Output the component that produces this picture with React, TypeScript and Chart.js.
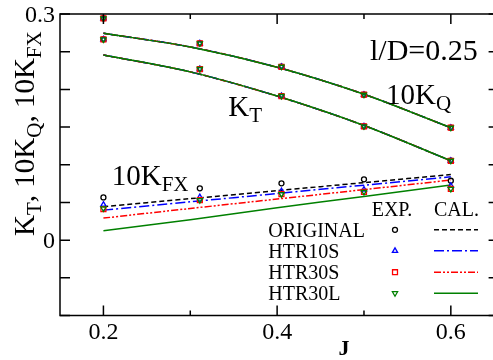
import React, { useEffect, useRef } from 'react';
import { Chart, registerables } from 'chart.js';

Chart.register(...registerables);

// ---- data ----
const J_EXP = [0.2, 0.311, 0.405, 0.5, 0.6];
const J_CAL = [0.2, 0.3, 0.4, 0.5, 0.6];

const KQ10_EXP = [0.2943, 0.2611, 0.23, 0.1929, 0.1491];
const KT_EXP = [0.2664, 0.227, 0.1912, 0.151, 0.1053];
const KQ10_CAL = [0.2744, 0.2563, 0.2294, 0.1936, 0.1491];
const KT_CAL = [0.2456, 0.2232, 0.1911, 0.1521, 0.1053];

const FX_EXP_ORIGINAL = [0.0567, 0.0687, 0.0753, 0.0806, 0.0788];
const FX_EXP_HTR10S = [0.047, 0.057, 0.065, 0.067, 0.072];
const FX_EXP_HTR30S = [0.041, 0.053, 0.061, 0.064, 0.068];
const FX_EXP_HTR30L = [0.042, 0.053, 0.061, 0.064, 0.068];

const FX_CAL_ORIGINAL = [0.0443, 0.055, 0.0656, 0.0763, 0.087];
const FX_CAL_HTR10S = [0.0398, 0.0508, 0.0619, 0.0729, 0.084];
const FX_CAL_HTR30S = [0.0292, 0.042, 0.0545, 0.067, 0.0797];
const FX_CAL_HTR30L = [0.0124, 0.027, 0.0428, 0.058, 0.073];

const SERIES = ['ORIGINAL', 'HTR10S', 'HTR30S', 'HTR30L'];
const FX_EXP = [FX_EXP_ORIGINAL, FX_EXP_HTR10S, FX_EXP_HTR30S, FX_EXP_HTR30L];
const FX_CAL = [FX_CAL_ORIGINAL, FX_CAL_HTR10S, FX_CAL_HTR30S, FX_CAL_HTR30L];

const Y_TICKS = [-0.1, -0.05, 0, 0.05, 0.1, 0.15, 0.2, 0.25, 0.3];
const Y_LABELS = [0, 0.3];
const X_TICKS = [0.2, 0.3, 0.4, 0.5, 0.6];
const X_LABELS = [0.2, 0.4, 0.6];

// ---- styles ----
const COLORS = ['#000000', '#0000ff', '#ff0000', '#008000'];
const DASHES = [[5, 3], [10, 3, 2, 3], [7, 2, 2, 2, 2, 2], []];
const POINT_STYLES = ['circle', 'triangle', 'rect', 'triangle'];
const POINT_ROT = [0, 0, 0, 180];
const POINT_R = [2.5, 3, 3.5, 3];
const SERIF = '"Liberation Serif", "Times New Roman", serif';

const toXY = (xs: number[], ys: number[]) => xs.map((x, i) => ({ x, y: ys[i] }));

type Part = [string, boolean];

function drawRich(ctx: CanvasRenderingContext2D, parts: Part[], x: number, y: number, main: number, sub: number, off: number) {
  let cx = x;
  ctx.textAlign = 'left';
  ctx.textBaseline = 'alphabetic';
  for (const [t, isSub] of parts) {
    ctx.font = `${isSub ? sub : main}px ${SERIF}`;
    ctx.fillText(t, cx, isSub ? y + off : y);
    cx += ctx.measureText(t).width;
  }
}

function drawMarker(ctx: CanvasRenderingContext2D, i: number, x: number, y: number) {
  const r = POINT_R[i];
  ctx.save();
  ctx.strokeStyle = COLORS[i];
  ctx.lineWidth = 1.3;
  ctx.setLineDash([]);
  ctx.beginPath();
  if (POINT_STYLES[i] === 'circle') {
    ctx.arc(x, y, r, 0, Math.PI * 2);
  } else if (POINT_STYLES[i] === 'rect') {
    const s = r * Math.SQRT1_2;
    ctx.rect(x - s, y - s, 2 * s, 2 * s);
  } else {
    const dir = POINT_ROT[i] === 180 ? -1 : 1;
    for (let k = 0; k < 3; k++) {
      const a = (k * 2 * Math.PI) / 3;
      const px = x + Math.sin(a) * r;
      const py = y - dir * Math.cos(a) * r;
      if (k === 0) ctx.moveTo(px, py);
      else ctx.lineTo(px, py);
    }
    ctx.closePath();
  }
  ctx.stroke();
  ctx.restore();
}

const decorPlugin = {
  id: 'decor',
  afterDraw(chart: any) {
    const ctx: CanvasRenderingContext2D = chart.ctx;
    const { left, right, top, bottom } = chart.chartArea;
    const xs = chart.scales.x;
    const ys = chart.scales.y;
    ctx.save();
    ctx.strokeStyle = '#000';
    ctx.fillStyle = '#000';
    ctx.lineWidth = 1.5;
    ctx.setLineDash([]);
    ctx.strokeRect(left, top, right - left, bottom - top);
    ctx.beginPath();
    for (const v of Y_TICKS) {
      const y = ys.getPixelForValue(v);
      ctx.moveTo(left, y);
      ctx.lineTo(left + 10, y);
      ctx.moveTo(right, y);
      ctx.lineTo(right - 10, y);
    }
    for (const v of X_TICKS) {
      const x = xs.getPixelForValue(v);
      const len = X_LABELS.includes(v) ? 10 : 5;
      ctx.moveTo(x, bottom);
      ctx.lineTo(x, bottom - len);
      ctx.moveTo(x, top);
      ctx.lineTo(x, top + len);
    }
    ctx.stroke();

    // tick labels
    ctx.font = `24px ${SERIF}`;
    ctx.textAlign = 'right';
    ctx.textBaseline = 'alphabetic';
    for (const v of Y_LABELS) {
      ctx.fillText(String(v), left - 5, ys.getPixelForValue(v) + 7.8);
    }
    ctx.textAlign = 'center';
    for (const v of X_LABELS) {
      ctx.fillText(String(v), xs.getPixelForValue(v), bottom + 23);
    }
    // x title
    ctx.font = `bold 22px ${SERIF}`;
    ctx.fillText('J', 344, 354.5);

    // y title
    ctx.save();
    ctx.translate(34, 236);
    ctx.rotate(-Math.PI / 2);
    drawRich(ctx, [['K', false], ['T', true], [', 10K', false], ['Q', true], [', 10K', false], ['FX', true]], 0, 0, 29, 21, 7);
    ctx.restore();

    // annotations
    ctx.font = `30px ${SERIF}`;
    ctx.textAlign = 'left';
    ctx.fillText('l/D=0.25', 370, 60);
    drawRich(ctx, [['10K', false], ['Q', true]], 386, 104, 29, 21, 5.5);
    drawRich(ctx, [['K', false], ['T', true]], 228.3, 115.7, 29, 21, 6);
    drawRich(ctx, [['10K', false], ['FX', true]], 111.7, 185, 29, 21, 5.7);

    // legend
    ctx.font = `20px ${SERIF}`;
    ctx.textAlign = 'left';
    ctx.fillText('EXP.', 371.7, 215.7);
    ctx.fillText('CAL.', 434, 215.7);
    const rows = [236.6, 257.6, 279, 300];
    SERIES.forEach((name, i) => {
      const yb = rows[i];
      const ym = yb - 6.8;
      ctx.fillStyle = '#000';
      ctx.font = `20px ${SERIF}`;
      ctx.fillText(name, 268.3, yb);
      drawMarker(ctx, i, 395, ym);
      ctx.save();
      ctx.strokeStyle = COLORS[i];
      ctx.lineWidth = 1.5;
      ctx.setLineDash(DASHES[i]);
      ctx.beginPath();
      ctx.moveTo(434, ym);
      ctx.lineTo(478, ym);
      ctx.stroke();
      ctx.restore();
    });
    ctx.restore();
  },
};

function buildDatasets() {
  const ds: any[] = [];
  SERIES.forEach((name, i) => {
    const lineBase = {
      borderColor: COLORS[i],
      borderWidth: 1.5,
      borderDash: DASHES[i],
      pointRadius: 0,
      fill: false,
      tension: 0.3,
      order: 20 - i,
    };
    ds.push({ ...lineBase, label: `${name} 10KQ cal`, data: toXY(J_CAL, KQ10_CAL) });
    ds.push({ ...lineBase, label: `${name} KT cal`, data: toXY(J_CAL, KT_CAL) });
    ds.push({ ...lineBase, label: `${name} 10KFX cal`, data: toXY(J_CAL, FX_CAL[i]) });
    const ptBase = {
      showLine: false,
      pointStyle: POINT_STYLES[i],
      rotation: POINT_ROT[i],
      pointRadius: POINT_R[i],
      pointBorderWidth: 1.3,
      pointBorderColor: COLORS[i],
      pointBackgroundColor: 'rgba(0,0,0,0)',
      borderColor: COLORS[i],
      backgroundColor: 'rgba(0,0,0,0)',
      order: 10 - i,
    };
    ds.push({ ...ptBase, label: `${name} 10KQ exp`, data: toXY(J_EXP, KQ10_EXP) });
    ds.push({ ...ptBase, label: `${name} KT exp`, data: toXY(J_EXP, KT_EXP) });
    ds.push({ ...ptBase, label: `${name} 10KFX exp`, data: toXY(J_EXP, FX_EXP[i]) });
  });
  return ds;
}

export default function App() {
  const ref = useRef<HTMLCanvasElement | null>(null);
  useEffect(() => {
    if (!ref.current) return;
    const chart = new Chart(ref.current, {
      type: 'line',
      data: { datasets: buildDatasets() },
      options: {
        responsive: false,
        animation: false,
        devicePixelRatio: 1,
        events: [],
        layout: { padding: { left: 60, top: 14, right: 6.4, bottom: 44.5 } },
        plugins: { legend: { display: false }, tooltip: { enabled: false } },
        scales: {
          x: { type: 'linear', min: 0.15, max: 0.655, display: false },
          y: { type: 'linear', min: -0.1, max: 0.3, display: false },
        },
      } as any,
      plugins: [decorPlugin],
    });
    return () => chart.destroy();
  }, []);
  return (
    <div style={{ position: 'fixed', left: 0, top: 0, width: 493, height: 360, overflow: 'hidden', background: '#fff' }}>
      <canvas ref={ref} width={505} height={360} style={{ display: 'block', width: 505, height: 360 }} />
    </div>
  );
}
